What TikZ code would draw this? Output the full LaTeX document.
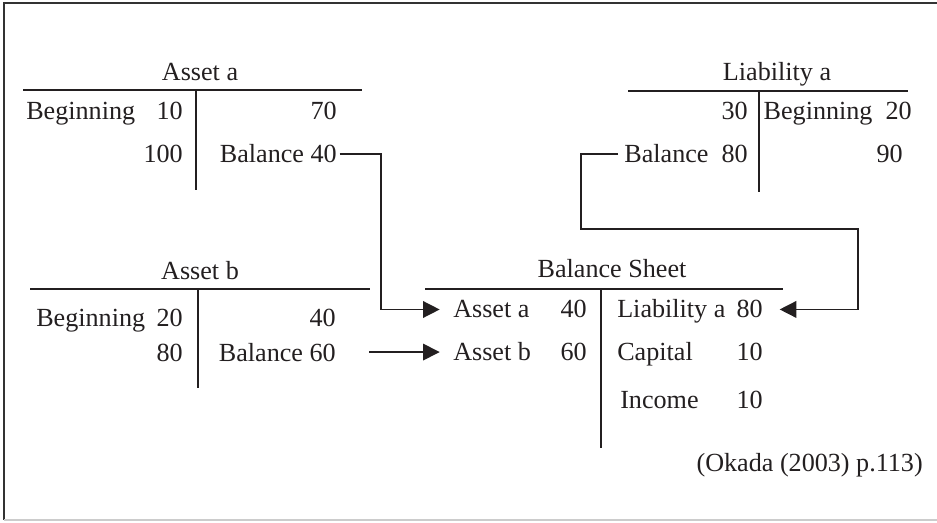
\documentclass[tikz,border=0pt]{standalone}
\usepackage{fontspec}
\setmainfont{Liberation Serif}
\usetikzlibrary{arrows.meta}
\usetikzlibrary{calc}

\definecolor{ink}{RGB}{35,31,32}

\begin{document}
\begin{tikzpicture}[x=0.75pt, y=-0.75pt, font=\fontsize{19.6}{23}\selectfont, color=ink,
every node/.style={inner sep=0pt},
lft/.style={anchor=base west},
rgt/.style={anchor=base east},
ttl/.style={anchor=base},
rule/.style={line width=1.1pt},
conn/.style={line width=1.1pt, -{Triangle[length=12.5pt,width=12.5pt]}}]

\useasboundingbox (0,0) rectangle (937,523);
\draw[line width=1.6pt, black!80] (937,3) -- (4,3) -- (4,520);
\draw[line width=0.8pt, black!20] (4,520) -- (937,520);

% Asset a
\node[ttl] (aa) at (200,81) {Asset a};
\draw[rule] (23,90) -- (362,90) (196,90) -- (196,190);
\node[lft] (aabeg) at (26,120) {Beginning};
\node[rgt] (aa10) at (183,120) {10};
\node[rgt] (aa100) at (183,163) {100};
\node[rgt] (aa70) at (337,120) {70};
\node[rgt] (bala) at (337,163) {Balance 40};

% Liability a
\node[ttl] (la) at (777,81) {Liability a};
\draw[rule] (628,91) -- (908,91) (759,91) -- (759,192);
\node[rgt] (la30) at (748,120) {30};
\node[rgt] (balla) at (748,163) {Balance\ \ 80};
\node[rgt] (labeg) at (912,120) {Beginning\ \ 20};
\node[rgt] (la90) at (903,163) {90};

% Asset b
\node[ttl] (ab) at (200,280) {Asset b};
\draw[rule] (30,289) -- (370,289) (198,289) -- (198,388);
\node[lft] (abbeg) at (36,326) {Beginning};
\node[rgt] (ab20) at (183,326) {20};
\node[rgt] (ab80) at (183,361) {80};
\node[rgt] (ab40) at (336,326) {40};
\node[rgt] (balb) at (336,361) {Balance 60};

% Balance Sheet
\node[ttl] (bs) at (612,278) {Balance Sheet};
\draw[rule] (425,289) -- (783,289) (601,289) -- (601,448);
\node[lft] (bsaa) at (453,318) {Asset a};
\node[rgt] (bsaa40) at (587,318) {40};
\node[lft] (bsab) at (453,360) {Asset b};
\node[rgt] (bsab60) at (587,360) {60};
\node[lft] (bsla) at (617,318) {Liability a};
\node[rgt] (bsla80) at (763,318) {80};
\node[lft] (bscap) at (617,360) {Capital};
\node[rgt] (bscap10) at (763,360) {10};
\node[lft] (bsinc) at (620,408) {Income};
\node[rgt] (bsinc10) at (763,408) {10};

\node[rgt] (src) at (923,471) {(Okada (2003) p.113)};

% connectors
\coordinate (ka) at (381,230);
\coordinate (kl1) at (581,229);
\coordinate (kl2) at (858,229);
\draw[conn, shorten <=2pt, shorten >=10pt] (bala.east) -| (ka) |- (bsaa.west);
\draw[conn, shorten <=25pt, shorten >=10pt] (balb.east) -- (balb.east -| bsab.west);
\draw[conn, shorten <=4.5pt, shorten >=12.5pt] (balla.west) -| (kl1) -- (kl2) |- (bsla80.east);
%
\end{tikzpicture}
\end{document}
